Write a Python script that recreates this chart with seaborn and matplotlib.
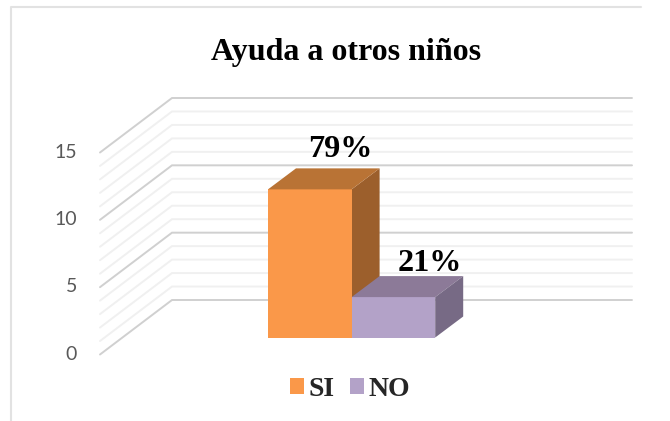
import matplotlib
matplotlib.use("Agg")
import matplotlib.pyplot as plt
from matplotlib.patches import Polygon
import matplotlib.transforms as mtrans
import pandas as pd
import seaborn as sns

categories = ["SI", "NO"]
values = [11, 3]
bar_labels = ["79%", "21%"]
title = "Ayuda a otros niños"
yticks = [0, 5, 10, 15]

W, H = 670, 421
front = ["#FA9849", "#B3A2C8"]
top = ["#B97335", "#8C7A98"]
side = ["#9C5F2C", "#776A85"]
SERIF = "Liberation Serif"

sns.set_theme(style="white")
fig = plt.figure(figsize=(W / 100, H / 100), dpi=100, facecolor="white")


def axes_px(x0, x1, ytop, ybot):
    return fig.add_axes([x0 / W, 1 - ybot / H, (x1 - x0) / W, (ybot - ytop) / H])


# frame of the chart area
fig.add_artist(plt.Line2D([10.7 / W, 10.7 / W, 641 / W], [0, 1 - 7 / H, 1 - 7 / H],
                          color="#E2E2E2", lw=1.5, transform=fig.transFigure))

# wall / floor grid, front plane of the 3-D box
UNIT = 202 / 15
wall = axes_px(100, 632, 152.5, 354.5)
wall.set_xlim(0, 532)
wall.set_ylim(0, 15)
wall.patch.set_alpha(0)
sns.despine(ax=wall, left=True, bottom=True)
wall.set_xticks([])
wall.set_yticks(yticks)
wall.tick_params(axis="y", length=0, pad=16.5, labelsize=14, labelcolor="#595959")
for lab in wall.get_yticklabels():
    lab.set_family("Lato")
    lab.set_va("center_baseline")
    lab.set_transform(lab.get_transform() + mtrans.ScaledTranslation(0, 2 / 100, fig.dpi_scale_trans))
rise = 54.5 / UNIT
for v in range(0, 16):
    major = v % 5 == 0
    wall.plot([0, 72, 532], [v, v + rise, v + rise], clip_on=False,
              color="#D0D0D0" if major else "#F0F0F0", lw=1.4,
              zorder=2 if major else 1, solid_joinstyle="miter")

# bars
bars = axes_px(268, 435.2, 337.5 - 15 * UNIT, 337.5)
df = pd.DataFrame({"cat": categories, "val": values})
sns.barplot(data=df, x="cat", y="val", hue="cat", order=categories, hue_order=categories,
            palette=front, width=1, dodge=False, saturation=1, legend=False, ax=bars,
            linewidth=0, edgecolor="none")
bars.set_xlim(-0.5, 1.5)
bars.set_ylim(0, 15)
bars.axis("off")
dx = 28 / (167.2 / 2)
dy = 21 / UNIT
label_x = [0.36, 0.44]
label_y = [0.85, 0.4]
for i, v in enumerate(values):
    l, r = i - 0.5, i + 0.5
    bars.add_patch(Polygon([(l, v), (l + dx, v + dy), (r + dx, v + dy), (r, v)],
                           closed=True, fc=top[i], ec="none", clip_on=False, zorder=3))
    bars.add_patch(Polygon([(r, 0), (r + dx, dy), (r + dx, v + dy), (r, v)],
                           closed=True, fc=side[i], ec="none", clip_on=False,
                           zorder=3 if i else 0.5))
    bars.text(i + label_x[i], v + dy + label_y[i], bar_labels[i], ha="center", va="baseline",
              family=SERIF, weight="bold", fontsize=23.2, color="black", clip_on=False, zorder=5)

fig.text(346 / W, 1 - 60 / H, title, ha="center", va="baseline", family=SERIF,
         weight="bold", fontsize=23, color="black")

handles = [plt.Rectangle((0, 0), 1, 1, fc=c, ec="none") for c in front]
fig.legend(handles, categories, loc="center", bbox_to_anchor=(350 / W, 1 - 389.5 / H),
           ncol=2, frameon=False, handlelength=0.5, handleheight=0.5, handletextpad=0.18,
           columnspacing=0.55, borderpad=0,
           prop={"family": SERIF, "weight": "bold", "size": 20})

fig.savefig("out.png", dpi=100, facecolor="white")
